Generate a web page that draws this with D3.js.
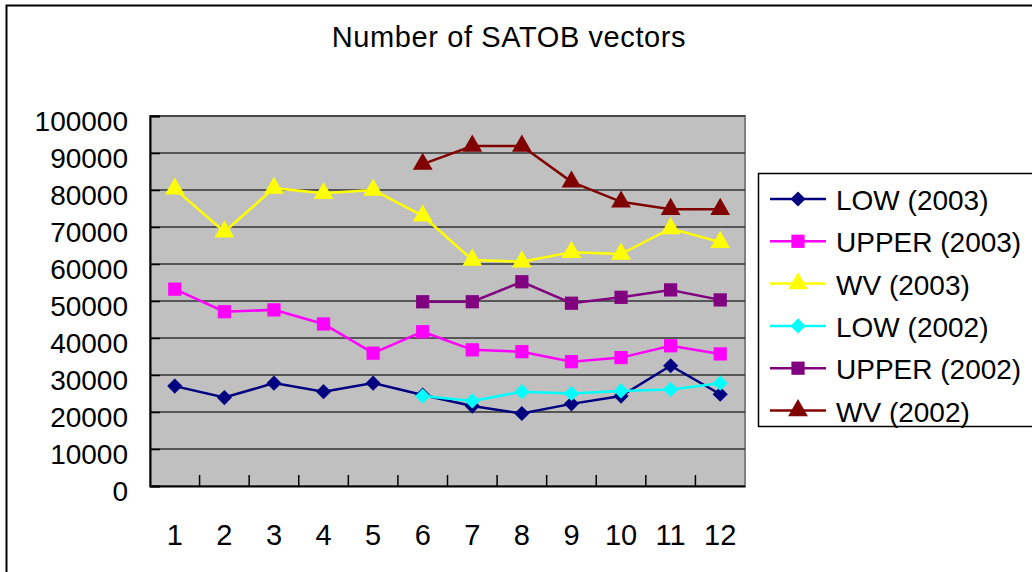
<!DOCTYPE html>
<html>
<head>
<meta charset="utf-8">
<script src="https://cdn.jsdelivr.net/npm/d3@7"></script>
<style>
  body { margin: 0; background: #fff; }
  text { font-family: "Liberation Sans", Arial, sans-serif; fill: #000; }
</style>
</head>
<body>
<div class="chart"></div>
<script>
const width = 1032;
const height = 572;

// months on the x axis
const months = ['1', '2', '3', '4', '5', '6', '7', '8', '9', '10', '11', '12'];
const yTicks = [0, 10000, 20000, 30000, 40000, 50000, 60000, 70000, 80000, 90000, 100000];

// series values (null = no data)
const low2003 = [27000, 23900, 27800, 25500, 27800, 24600, 21600, 19600, 22200, 24300, 32500, 24800];
const upper2003 = [53200, 47100, 47600, 43800, 35900, 41700, 36800, 36300, 33600, 34700, 37900, 35700];
const wv2003 = [80300, 68700, 80500, 79100, 80000, 73000, 61100, 60600, 63200, 62700, 69600, 65900];
const low2002 = [null, null, null, null, null, 24300, 23000, 25500, 25000, 25700, 26100, 27800];
const upper2002 = [null, null, null, null, null, 49800, 49800, 55200, 49400, 51000, 53000, 50300];
const wv2002 = [null, null, null, null, null, 87000, 91900, 91900, 82200, 76800, 74800, 74800];

const seriesNames = ['LOW (2003)', 'UPPER (2003)', 'WV (2003)', 'LOW (2002)', 'UPPER (2002)', 'WV (2002)'];
const seriesData = [low2003, upper2003, wv2003, low2002, upper2002, wv2002];
const seriesColors = ['#000080', '#FF00FF', '#FFFF00', '#00FFFF', '#800080', '#800000'];
const seriesShapes = ['diamond', 'square', 'triangle', 'diamond', 'square', 'triangle'];

const plot = { left: 150, top: 116, right: 745, bottom: 486 };

// marker path + rotation for each shape
function marker(shape) {
    if (shape === 'diamond') return { d: d3.symbol().type(d3.symbolSquare).size(115)(), rot: 45 };
    if (shape === 'square') return { d: d3.symbol().type(d3.symbolSquare).size(175)(), rot: 0 };
    return { d: d3.symbol().type(d3.symbolTriangle).size(170)(), rot: 0 };
}

const svg = d3.select('.chart').append('svg')
    .attr('width', width)
    .attr('height', height);

// outer chart frame
svg.append('rect')
    .attr('x', 6.5).attr('y', 5.5)
    .attr('width', 1040).attr('height', 600)
    .attr('fill', 'none').attr('stroke', '#000').attr('stroke-width', 2);

// title
svg.append('text')
    .attr('x', 509).attr('y', 47)
    .attr('text-anchor', 'middle')
    .attr('font-size', 29)
    .attr('letter-spacing', 0.6)
    .text('Number of SATOB vectors');

const xScale = d3.scaleBand()
    .domain(months)
    .range([plot.left, plot.right]);
const yScale = d3.scaleLinear()
    .domain([0, 100000])
    .range([plot.bottom, plot.top]);

// plot background
svg.append('rect')
    .attr('x', plot.left).attr('y', plot.top)
    .attr('width', plot.right - plot.left).attr('height', plot.bottom - plot.top)
    .attr('fill', '#C0C0C0')
    .attr('stroke', '#808080').attr('stroke-width', 2);

// gridlines
svg.append('g')
    .selectAll('line')
    .data(yTicks.filter(d => d > 0))
    .enter().append('line')
    .attr('x1', plot.left).attr('x2', plot.right)
    .attr('y1', d => yScale(d)).attr('y2', d => yScale(d))
    .attr('stroke', '#333').attr('stroke-width', 1.5);

/*      y axis      */
const yAxis = d3.axisLeft(yScale).tickValues(yTicks).tickSize(-10).tickPadding(22).tickFormat(d3.format('d'));
const yG = svg.append('g')
    .attr('transform', `translate(${plot.left},0)`)
    .call(yAxis);
yG.select('.domain').attr('stroke', '#000').attr('stroke-width', 2);
yG.selectAll('.tick line').attr('stroke', '#000').attr('stroke-width', 1.5);
yG.selectAll('.tick text')
    .attr('font-size', 28)
    .attr('font-family', '"Liberation Sans", Arial, sans-serif')
    .attr('y', 6)
    .attr('fill', '#000');

/*      x axis      */
const xAxis = d3.axisBottom(xScale).tickSize(0).tickPadding(38);
const xG = svg.append('g')
    .attr('transform', `translate(0,${plot.bottom})`)
    .call(xAxis);
xG.select('.domain').attr('stroke', '#000').attr('stroke-width', 2);
xG.selectAll('.tick text')
    .attr('font-size', 29)
    .attr('font-family', '"Liberation Sans", Arial, sans-serif')
    .attr('fill', '#000');
// ticks between categories, pointing inside
xG.selectAll('.sep')
    .data(months.slice(1))
    .enter().append('line')
    .attr('x1', d => xScale(d)).attr('x2', d => xScale(d))
    .attr('y1', 0).attr('y2', -11)
    .attr('stroke', '#000').attr('stroke-width', 1.5);

/*      lines and markers      */
const xc = d => xScale(d) + xScale.bandwidth() / 2;
const line = d3.line()
    .defined(d => d.v !== null)
    .x(d => xc(d.m))
    .y(d => yScale(d.v));

seriesData.forEach((vals, i) => {
    const pts = vals.map((v, j) => ({ m: months[j], v: v }));
    const mk = marker(seriesShapes[i]);
    const g = svg.append('g');
    g.append('path')
        .datum(pts)
        .attr('d', line)
        .attr('fill', 'none')
        .attr('stroke', seriesColors[i])
        .attr('stroke-width', 2.5);
    g.selectAll('path.mk')
        .data(pts.filter(d => d.v !== null))
        .enter().append('path')
        .attr('class', 'mk')
        .attr('d', mk.d)
        .attr('transform', d => `translate(${xc(d.m)},${yScale(d.v)}) rotate(${mk.rot})`)
        .attr('fill', seriesColors[i]);
});

/*      legend      */
const legend = svg.append('g');
legend.append('rect')
    .attr('x', 758.5).attr('y', 173.5)
    .attr('width', 300).attr('height', 253)
    .attr('fill', '#fff').attr('stroke', '#000').attr('stroke-width', 1.5);
const items = legend.selectAll('g.item')
    .data(seriesNames)
    .enter().append('g')
    .attr('class', 'item')
    .attr('transform', (d, i) => `translate(0,${199 + i * 42.3})`);
items.append('line')
    .attr('x1', 770).attr('x2', 826)
    .attr('stroke', (d, i) => seriesColors[i]).attr('stroke-width', 2.5);
items.append('path')
    .attr('d', (d, i) => marker(seriesShapes[i]).d)
    .attr('transform', (d, i) => `translate(798,0) rotate(${marker(seriesShapes[i]).rot})`)
    .attr('fill', (d, i) => seriesColors[i]);
items.append('text')
    .attr('x', 836).attr('y', 11)
    .attr('font-size', 28)
    .text(d => d);
</script>
</body>
</html>
